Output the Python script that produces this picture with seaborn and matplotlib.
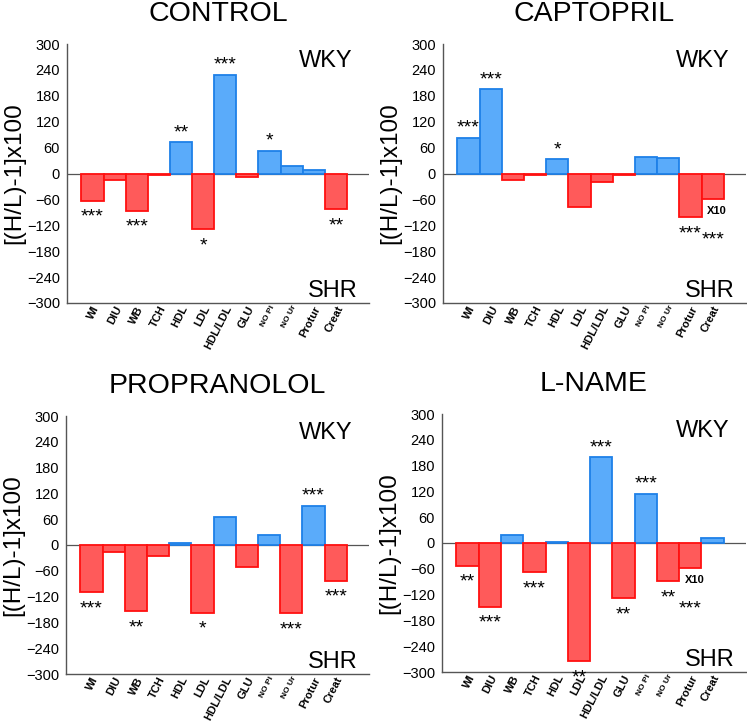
import numpy as np
import pandas as pd
import matplotlib
matplotlib.use("Agg")
import matplotlib.pyplot as plt
import seaborn as sns

# categories shared by all four panels
categories = ["WI", "DIU", "WB", "TCH", "HDL", "LDL", "HDL/LDL", "GLU",
              "NO Pi", "NO Ur", "Protur", "Creat"]

# [(H/L)-1]x100 per group
control = [-63, -15, -86, -3, 72, -129, 228, -9, 53, 18, 7, -83]
captopril = [83, 195, -16, -4, 33, -77, -20, -3, 38, 36, -101, -58]
propranolol = [-110, -17, -154, -25, 5, -157, 64, -50, 23, -159, 91, -83]
lname = [-53, -148, 18, -67, 3, -274, 199, -129, 115, -88, -57, 12]

# significance marks
control_sig = ["***", "", "***", "", "**", "*", "***", "", "*", "", "", "**"]
captopril_sig = ["***", "***", "", "", "*", "", "", "", "", "", "***", "***"]
propranolol_sig = ["***", "", "**", "", "", "*", "", "", "", "***", "***", "***"]
lname_sig = ["**", "***", "", "***", "", "**", "***", "**", "***", "**", "***", ""]

# extra notes under bars
captopril_note = ["", "", "", "", "", "", "", "", "", "", "", "X10"]
lname_note = ["", "", "", "", "", "", "", "", "", "", "X10", ""]
no_note = [""] * 12

panels = [
    ("CONTROL", control, control_sig, no_note),
    ("CAPTOPRIL", captopril, captopril_sig, captopril_note),
    ("PROPRANOLOL", propranolol, propranolol_sig, no_note),
    ("L-NAME", lname, lname_sig, lname_note),
]

sns.set_style("white")
plt.rcParams["font.family"] = ["Liberation Sans", "DejaVu Sans"]
plt.rcParams["text.color"] = "black"
plt.rcParams["axes.labelcolor"] = "black"
plt.rcParams["xtick.color"] = "black"
plt.rcParams["ytick.color"] = "black"

W, H = 747, 721
fig = plt.figure(figsize=(W / 100, H / 100), dpi=100)

# axes boxes in pixels: left, top, right, bottom
boxes = [(67, 44, 369, 303), (443, 44, 746, 303),
         (66, 416, 369, 674), (442, 414, 746, 672)]

face = {"up": "#5aabfa", "down": "#ff5a5a"}
edge = {"up": "#1e80e8", "down": "#ff1010"}
small_labels = {"NO Pi", "NO Ur"}

for (title, vals, sig, note), (l, t, r, b) in zip(panels, boxes):
    ax = fig.add_axes([l / W, 1 - b / H, (r - l) / W, (b - t) / H])
    df = pd.DataFrame({"cat": categories, "val": vals})
    df["dir"] = np.where(df["val"] >= 0, "up", "down")
    sns.barplot(data=df, x="cat", y="val", hue="dir", palette=face,
                order=categories, hue_order=["up", "down"], dodge=False,
                width=1.0, legend=False, ax=ax, linewidth=1.3, saturation=1)
    for p in ax.patches:
        if p.get_height() == 0 and p.get_width() == 0:
            continue
        p.set_edgecolor(edge["up"] if p.get_height() >= 0 else edge["down"])

    ax.axhline(0, color="#555555", lw=0.9, zorder=0)
    ax.set_ylim(-300, 300)
    ax.set_xlim(-1.15, 12.5)
    ax.set_yticks(np.arange(-300, 301, 60))
    ax.tick_params(axis="y", labelsize=10.5, length=3, color="#555555", pad=2)
    ax.tick_params(axis="x", length=0, pad=1)
    for s in ["top", "right"]:
        ax.spines[s].set_visible(False)
    for s in ["left", "bottom"]:
        ax.spines[s].set_color("#555555")
        ax.spines[s].set_linewidth(1)
    ax.set_xlabel("")
    ax.set_ylabel("[(H/L)-1]x100", fontsize=17.5, labelpad=1)

    ax.set_xticks(range(len(categories)))
    ax.set_xticklabels(categories, rotation=63, ha="right",
                       rotation_mode="anchor", fontweight="bold")
    for lab in ax.get_xticklabels():
        lab.set_fontsize(6 if lab.get_text() in small_labels else 8)

    h = b - t
    w = r - l
    ax.text(0.5, 1 + 30 / h, title, transform=ax.transAxes, ha="center",
            va="center", fontsize=20.5)
    ax.text(1 - 16 / w, 1 - 6 / h, "WKY", transform=ax.transAxes,
            ha="right", va="top", fontsize=17)
    ax.text(1 - 11 / w, 6 / h, "SHR", transform=ax.transAxes,
            ha="right", va="baseline", fontsize=17)

    for i, (v, s, n) in enumerate(zip(vals, sig, note)):
        if n:
            ax.annotate(n, xy=(i, v), xytext=(3, -9), textcoords="offset points",
                        ha="center", va="center", fontsize=8, fontweight="bold")
        if not s:
            continue
        if v >= 0:
            off = 7
        else:
            off = -12 if not n else -30
        ax.annotate(s, xy=(i, v), xytext=(0, off), textcoords="offset points",
                    ha="center", va="center", fontsize=14, annotation_clip=False)

fig.savefig("out.png", dpi=100)
